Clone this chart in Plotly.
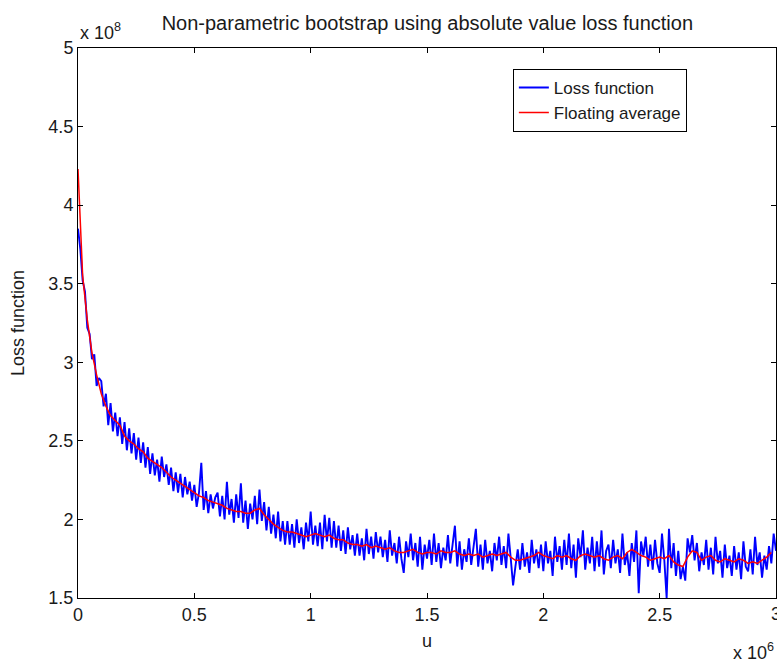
import numpy as np
import plotly.graph_objects as go

# Data (u in units of 1e6, loss in units of 1e8)
blue_step = 0.01
loss_values = [
    3.85, 3.72, 3.52, 3.45, 3.22, 3.18, 3.02, 3.05, 2.85, 2.90,
    2.88, 2.72, 2.80, 2.60, 2.74, 2.56, 2.68, 2.53, 2.65, 2.48,
    2.62, 2.44, 2.58, 2.42, 2.55, 2.38, 2.52, 2.36, 2.49, 2.33,
    2.46, 2.29, 2.42, 2.28, 2.38, 2.24, 2.40, 2.27, 2.35, 2.22,
    2.33, 2.18, 2.30, 2.17, 2.29, 2.14, 2.27, 2.16, 2.24, 2.12,
    2.22, 2.08, 2.17, 2.36, 2.06, 2.18, 2.04, 2.16, 2.07, 2.14,
    2.17, 2.02, 2.15, 2.00, 2.24, 2.03, 2.13, 1.98, 2.16, 2.01,
    2.23, 1.98, 2.12, 1.94, 2.10, 2.00, 2.15, 1.97, 2.19, 1.99,
    2.11, 1.93, 2.08, 1.91, 2.03, 1.88, 2.05, 1.86, 1.99, 1.84,
    1.99, 1.84, 1.97, 1.82, 2.00, 1.85, 1.95, 1.81, 1.98, 1.86,
    2.05, 1.84, 1.96, 1.83, 1.98, 1.81, 2.03, 1.86, 2.01, 1.82,
    1.99, 1.82, 1.96, 1.80, 1.93, 1.78, 1.95, 1.81, 1.90, 1.77,
    1.91, 1.77, 1.88, 1.74, 1.94, 1.78, 1.89, 1.75, 1.92, 1.79,
    1.89, 1.76, 1.87, 1.73, 1.93, 1.77, 1.85, 1.72, 1.89, 1.75,
    1.66, 1.86, 1.76, 1.91, 1.74, 1.85, 1.70, 1.89, 1.68, 1.84,
    1.75, 1.87, 1.71, 1.91, 1.73, 1.85, 1.69, 1.82, 1.74, 1.90,
    1.72, 1.83, 1.96, 1.70, 1.86, 1.68, 1.81, 1.73, 1.88, 1.71,
    1.82, 1.94, 1.70, 1.84, 1.68, 1.87, 1.72, 1.80, 1.67, 1.85,
    1.74, 1.89, 1.71, 1.83, 1.69, 1.91, 1.75, 1.58, 1.70, 1.81,
    1.68, 1.85, 1.70, 1.79, 1.66, 1.87, 1.72, 1.81, 1.69, 1.84,
    1.67, 1.86, 1.72, 1.80, 1.64, 1.89, 1.73, 1.83, 1.68, 1.87,
    1.71, 1.91, 1.69, 1.84, 1.63, 1.88, 1.76, 1.93, 1.68, 1.82,
    1.72, 1.89, 1.67, 1.86, 1.70, 1.93, 1.65, 1.80, 1.84, 1.69,
    1.87, 1.72, 1.81, 1.66, 1.91, 1.71, 1.79, 1.64, 1.85, 1.73,
    1.93, 1.53, 1.86, 1.77, 1.89, 1.70, 1.84, 1.68, 1.87, 1.72,
    1.66, 1.91, 1.74, 1.50, 1.94, 1.69, 1.85, 1.64, 1.80, 1.62,
    1.70, 1.61, 1.88, 1.79, 1.90, 1.74, 1.85, 1.67, 1.79, 1.71,
    1.87, 1.68, 1.82, 1.65, 1.89, 1.72, 1.80, 1.63, 1.84, 1.69,
    1.77, 1.64, 1.83, 1.68, 1.79, 1.62, 1.86, 1.70, 1.67, 1.81,
    1.65, 1.89, 1.71, 1.79, 1.63, 1.77, 1.68, 1.83, 1.72, 1.91,
    1.80,
]

red_step = 0.02
avg_values = [
    4.23, 3.55, 3.27, 3.06, 2.92, 2.80, 2.72, 2.66, 2.63, 2.60,
    2.53, 2.50, 2.48, 2.45, 2.43, 2.39, 2.37, 2.35, 2.33, 2.30,
    2.27, 2.25, 2.23, 2.21, 2.19, 2.17, 2.15, 2.14, 2.12, 2.11,
    2.10, 2.09, 2.07, 2.06, 2.05, 2.05, 2.04, 2.04, 2.06, 2.07,
    2.03, 2.00, 1.97, 1.95, 1.93, 1.92, 1.92, 1.91, 1.90, 1.89,
    1.90, 1.91, 1.90, 1.89, 1.90, 1.88, 1.87, 1.87, 1.85, 1.84,
    1.84, 1.83, 1.84, 1.82, 1.83, 1.82, 1.81, 1.82, 1.80, 1.79,
    1.79, 1.80, 1.81, 1.79, 1.78, 1.79, 1.79, 1.78, 1.80, 1.79,
    1.79, 1.80, 1.78, 1.77, 1.78, 1.77, 1.78, 1.76, 1.77, 1.78,
    1.77, 1.78, 1.79, 1.76, 1.74, 1.74, 1.75, 1.76, 1.77, 1.79,
    1.77, 1.76, 1.75, 1.77, 1.76, 1.77, 1.75, 1.74, 1.77, 1.78,
    1.77, 1.76, 1.77, 1.75, 1.74, 1.76, 1.77, 1.75, 1.79, 1.81,
    1.79, 1.77, 1.76, 1.74, 1.75, 1.76, 1.75, 1.77, 1.73, 1.71,
    1.70, 1.76, 1.80, 1.79, 1.74, 1.76, 1.77, 1.74, 1.73, 1.75,
    1.74, 1.73, 1.75, 1.74, 1.72, 1.73, 1.72, 1.74, 1.76, 1.79,
]

x_tick_vals = [0, 0.5, 1, 1.5, 2, 2.5, 3]
x_tick_text = ["0", "0.5", "1", "1.5", "2", "2.5", "3"]
y_tick_vals = [1.5, 2, 2.5, 3, 3.5, 4, 4.5, 5]
y_tick_text = ["1.5", "2", "2.5", "3", "3.5", "4", "4.5", "5"]

loss_x = np.arange(len(loss_values)) * blue_step
avg_x = np.arange(len(avg_values)) * red_step

FONT = "Liberation Sans, Arial, sans-serif"
TXT = "#1a1a1a"

fig = go.Figure()
fig.add_trace(go.Scatter(x=loss_x, y=loss_values, mode="lines", name="Loss function",
                         line=dict(color="#0000ff", width=1.9)))
fig.add_trace(go.Scatter(x=avg_x, y=avg_values, mode="lines", name="Floating average",
                         line=dict(color="#ff0000", width=1.5)))

axis_common = dict(showline=True, linecolor="black", linewidth=1, mirror="ticks",
                   ticks="inside", ticklen=5, tickcolor="black", showgrid=False,
                   zeroline=False, tickfont=dict(family=FONT, size=18, color=TXT))

fig.update_layout(
    width=777, height=664,
    margin=dict(l=78, r=1, t=48, b=66),
    paper_bgcolor="white", plot_bgcolor="white",
    font=dict(family=FONT, color=TXT),
    title=dict(text="Non-parametric bootstrap using absolute value loss function",
               x=0.55, xanchor="center", y=0.965, yanchor="middle",
               font=dict(family=FONT, size=20, color=TXT)),
    xaxis=dict(range=[0, 3], tickvals=x_tick_vals, ticktext=x_tick_text,
               title=dict(text="u", font=dict(family=FONT, size=18, color=TXT), standoff=10),
               **axis_common),
    yaxis=dict(range=[1.5, 5], tickvals=y_tick_vals, ticktext=y_tick_text,
               **axis_common),
    legend=dict(x=0.623, y=0.962, xanchor="left", yanchor="top",
                bgcolor="white", bordercolor="black", borderwidth=1,
                font=dict(family=FONT, size=17, color=TXT),
                tracegroupgap=0),
    showlegend=True,
)

fig.add_annotation(text="Loss function", xref="paper", yref="paper",
                   x=-0.086, y=0.5, xanchor="center", yanchor="middle", textangle=-90,
                   showarrow=False, font=dict(family=FONT, size=18, color=TXT))
fig.add_annotation(text="x 10<sup>8</sup>", xref="paper", yref="paper",
                   x=0.0, y=1.0, xanchor="left", yanchor="bottom", yshift=3,
                   showarrow=False, font=dict(family=FONT, size=18, color=TXT))
fig.add_annotation(text="x 10<sup>6</sup>", xref="paper", yref="paper",
                   x=1.0, y=0.0, xanchor="right", yanchor="top", yshift=-40,
                   showarrow=False, font=dict(family=FONT, size=18, color=TXT))
fig.add_annotation(text="3", xref="x", yref="paper", x=3, y=0.0,
                   xanchor="center", yanchor="top", yshift=-4,
                   showarrow=False, font=dict(family=FONT, size=18, color=TXT))

fig.write_html("out.html")
